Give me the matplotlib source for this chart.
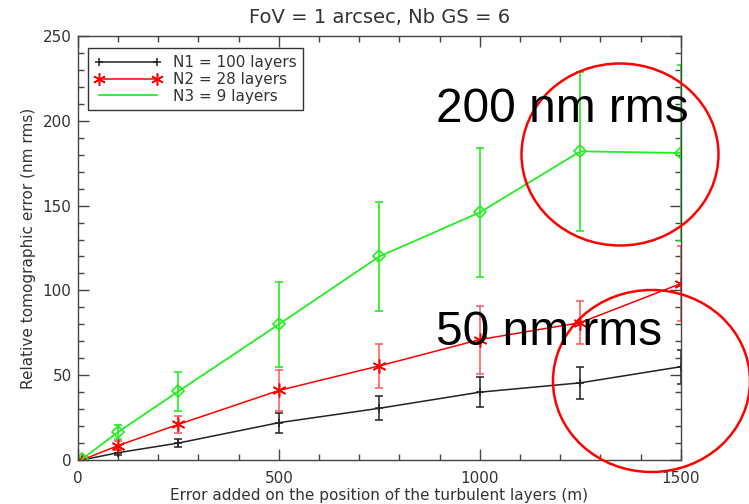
import matplotlib.pyplot as plt
from matplotlib.lines import Line2D
from matplotlib.patches import Ellipse
from matplotlib.ticker import MultipleLocator

# layer position error (m)
x = [10, 100, 250, 500, 750, 1000, 1250, 1500]

# relative tomographic error (nm rms) and error bars
n1 = [0, 4.3, 10, 22, 30.5, 40, 45.5, 55]
n1_err = [0.5, 1.5, 2.5, 6, 7, 9, 9.5, 10]
n2 = [0, 8.5, 21, 41, 55.5, 71, 81, 104]
n2_err = [0.5, 2.5, 5, 12, 13, 20, 12.5, 22]
n3 = [0.5, 16.5, 40.5, 80, 120, 146, 182, 181]
n3_err = [1, 4, 11.5, 25, 32, 38, 47, 52]

labels = ['N1 = 100 layers', 'N2 = 28 layers', 'N3 = 9 layers']

txt = '#333333'
plt.rcParams['font.family'] = 'DejaVu Sans'

fig = plt.figure(figsize=(7.49, 5.04), dpi=100)
ax = fig.add_axes([0.104, 0.0873, 0.805, 0.8413])

ax.errorbar(x, n1, yerr=n1_err, color='#222222', lw=1.1, marker='+', ms=6,
            mew=1.1, capsize=3, elinewidth=1.1)
ax.errorbar(x, n2, yerr=n2_err, color='red', ecolor='#ff5555', lw=1.1,
            marker=(6, 2, 0), ms=10, mew=1.1, capsize=3, elinewidth=1.1)
ax.errorbar(x, n3, yerr=n3_err, color='#22ee22', lw=1.3, marker='D', ms=6,
            mfc='none', mew=1.2, capsize=3, elinewidth=1.2)

ax.set_xlim(0, 1500)
ax.set_ylim(0, 250)
ax.xaxis.set_major_locator(MultipleLocator(500))
ax.xaxis.set_minor_locator(MultipleLocator(100))
ax.yaxis.set_major_locator(MultipleLocator(50))
ax.yaxis.set_minor_locator(MultipleLocator(10))
ax.tick_params(which='both', direction='in', top=True, right=True,
               color='#444444', width=1)
ax.tick_params(which='major', length=8, labelsize=11, labelcolor=txt)
ax.tick_params(axis='x', which='major', pad=8)
ax.tick_params(axis='y', which='major', pad=4.5)
ax.tick_params(which='minor', length=4)
for s in ax.spines.values():
    s.set_color('#444444')
    s.set_linewidth(1)

ax.set_title('FoV = 1 arcsec, Nb GS = 6', fontsize=14, color=txt, pad=9)
ax.set_xlabel('Error added on the position of the turbulent layers (m)',
              fontsize=11, color=txt, labelpad=1.5)
ax.set_ylabel('Relative tomographic error (nm rms)', fontsize=11, color=txt,
              labelpad=5)

handles = [
    Line2D([], [], color='#222222', lw=1.1, marker='+', ms=6, mew=1.1),
    Line2D([], [], color='red', lw=1.1, marker=(6, 2, 0), ms=9, mew=1.1),
    Line2D([], [], color='#22ee22', lw=1.3),
]
leg = ax.legend(handles, labels, loc='upper left', bbox_to_anchor=(0.0166, 0.9717),
                borderaxespad=0, fontsize=11, numpoints=2, handlelength=4.4,
                handletextpad=0.7, labelspacing=0.12, borderpad=0.45,
                handleheight=0.6, fancybox=False, framealpha=1)
leg.get_frame().set_edgecolor('#333333')
leg.get_frame().set_linewidth(1)
for t in leg.get_texts():
    t.set_color(txt)

# highlighted regions
for cx, cy in [(620, 154.5), (651.5, 381)]:
    fig.add_artist(Ellipse((cx / 749, 1 - cy / 504), 197 / 749, 182 / 504,
                           transform=fig.transFigure, fill=False,
                           edgecolor='red', lw=1.8))

fig.text(436 / 749, 1 - 122 / 504, '200 nm rms', fontsize=34.5,
         family='Liberation Sans', va='baseline', ha='left')
fig.text(436 / 749, 1 - 345 / 504, '50 nm rms', fontsize=34.5,
         family='Liberation Sans', va='baseline', ha='left')

fig.savefig('out.png', dpi=100)
